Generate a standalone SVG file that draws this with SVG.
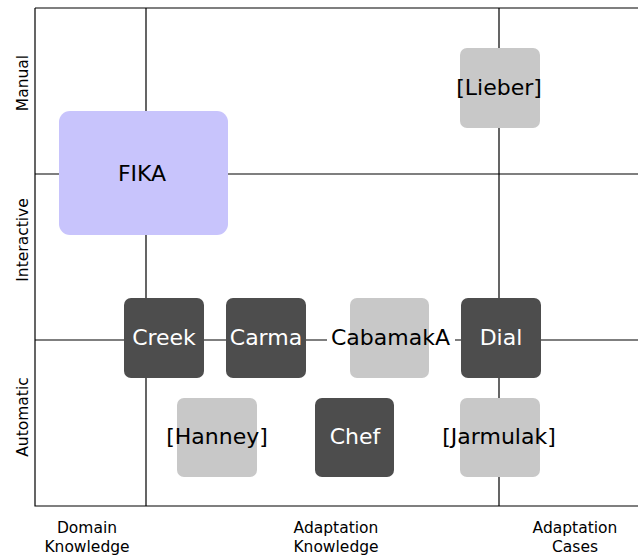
<svg xmlns="http://www.w3.org/2000/svg" width="638" height="558" viewBox="0 0 638 558">
<style>
text{font-family:"DejaVu Sans",sans-serif}
.ax{stroke:#000;stroke-width:1.2;fill:none}
.lab{font-size:15.5px;fill:#000;text-anchor:middle}
.nt{font-size:22px;text-anchor:middle}
.dark{fill:#4d4d4d}
.light{fill:#c8c8c8}
.dt{fill:#fff}
.lt{fill:#000}
</style>
<rect width="638" height="558" fill="#fff"/>
<g id="connectors">
<path class="ax" d="M35,8H638M35,8V506H638M146,8V506M499,8V506M35,174H638M35,340H327M455,340H638"/>
</g>
<g id="axis-labels">
<text class="lab" transform="translate(27.5,83) rotate(-90)">Manual</text>
<text class="lab" transform="translate(27.5,240) rotate(-90)">Interactive</text>
<text class="lab" transform="translate(27.5,417) rotate(-90)">Automatic</text>
<text class="lab" x="87" y="533">Domain</text>
<text class="lab" x="87" y="552">Knowledge</text>
<text class="lab" x="336" y="533">Adaptation</text>
<text class="lab" x="336" y="552">Knowledge</text>
<text class="lab" x="575" y="533">Adaptation</text>
<text class="lab" x="575" y="552">Cases</text>
</g>
<g id="FIKA"><rect x="59" y="111" width="169" height="124" rx="11" fill="#c8c4fc"/><text class="nt lt" x="142" y="181">FIKA</text></g>
<g id="Lieber"><rect class="light" x="460" y="48" width="80" height="80" rx="7"/><text class="nt lt" x="499" y="95">[Lieber]</text></g>
<g id="Creek"><rect class="dark" x="124" y="298" width="80" height="80" rx="7"/><text class="nt dt" x="164" y="345">Creek</text></g>
<g id="Carma"><rect class="dark" x="226" y="298" width="80" height="80" rx="7"/><text class="nt dt" x="266" y="345">Carma</text></g>
<g id="CabamakA"><rect class="light" x="350" y="298" width="79" height="80" rx="7"/><text class="nt lt" x="390.5" y="345">CabamakA</text></g>
<g id="Dial"><rect class="dark" x="461" y="298" width="80" height="80" rx="7"/><text class="nt dt" x="501" y="345">Dial</text></g>
<g id="Hanney"><rect class="light" x="177" y="398" width="80" height="79" rx="7"/><text class="nt lt" x="217" y="444">[Hanney]</text></g>
<g id="Chef"><rect class="dark" x="315" y="398" width="79" height="79" rx="7"/><text class="nt dt" x="355" y="444">Chef</text></g>
<g id="Jarmulak"><rect class="light" x="460" y="398" width="80" height="79" rx="7"/><text class="nt lt" x="499" y="444">[Jarmulak]</text></g>
</svg>
